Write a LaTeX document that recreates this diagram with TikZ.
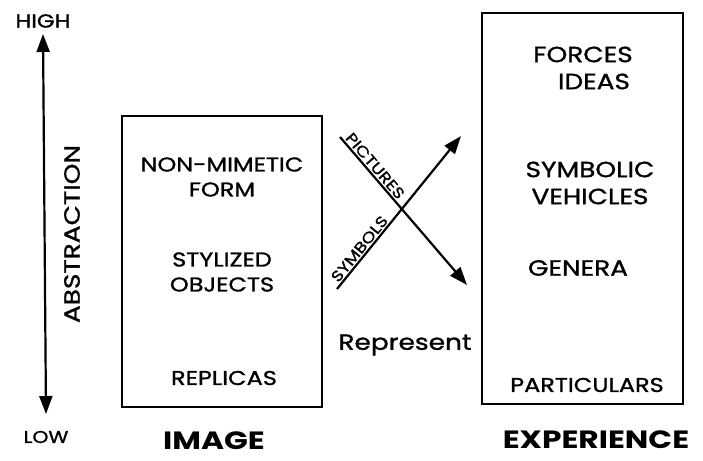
\documentclass[tikz,border=0pt]{standalone}
\usepackage{fontspec}
\setmainfont{Poppins}
\newfontfamily\handfont{Poppins}[FakeStretch=1.2,FakeBold=1.2]
\newfontfamily\capfont{Poppins}[FakeStretch=1.25]
\usetikzlibrary{arrows.meta,positioning}

\tikzset{
  panel/.style={draw,line width=2.2pt,inner sep=0pt},
  term/.style={align=center,font=\handfont\fontsize{20}{25}\selectfont},
  bigterm/.style={align=center,font=\handfont\fontsize{22}{27}\selectfont},
  caption/.style={font=\capfont\bfseries\fontsize{25}{30}\selectfont},
  tick/.style={font=\handfont\fontsize{19}{23}\selectfont},
  slant/.style={font=\handfont\fontsize{15}{18}\selectfont,inner sep=1.5pt},
  tip/.tip={Triangle[length=18pt,width=13pt]},
  link/.style={line width=2.2pt,-tip},
}

\begin{document}
\begin{tikzpicture}[x=1pt,y=-1pt]
    \useasboundingbox (0,0) rectangle (703,460);

    % abstraction scale
    \node[tick] (high) at (43,21) {HIGH};
    \node[tick,font=\handfont\fontsize{17}{21}\selectfont] (low) at (46,437) {LOW};
    \coordinate (scaleTop) at (43,34);
    \coordinate (scaleBot) at (46,414);
    \draw[line width=2.2pt,tip-tip] (scaleTop) -- (scaleBot);
    \node[rotate=90,font=\handfont\fontsize{22}{26}\selectfont] (abstraction) at (72,234) {ABSTRACTION};

    % image panel
    \node[panel,minimum width=200pt,minimum height=291pt] (imagebox) at (222,261.5) {};
    \node[term] (nonmimetic) at (222,177) {NON-MIMETIC\\FORM};
    \node[term] (stylized) at (222,272) {STYLIZED\\OBJECTS};
    \node[term] (replicas) at (224,378) {REPLICAS};
    \node[caption] (image) at (214,441) {IMAGE};

    % experience panel
    \node[panel,minimum width=201pt,minimum height=391pt] (expbox) at (582.5,208.5) {};
    \node[bigterm] (forces) at (583,68) {FORCES\\\hspace*{1em}IDEAS};
    \node[bigterm] (symbolic) at (590,183) {SYMBOLIC\\VEHICLES};
    \node[bigterm] (genera) at (578,268) {GENERA};
    \node[term] (particulars) at (587,385) {PARTICULARS};
    \node[caption] (experience) at (596,440) {EXPERIENCE};

    % crossing arrows
    \coordinate (picFrom) at (340,137);
    \coordinate (picTo) at (467,285);
    \coordinate (symFrom) at (337,289);
    \coordinate (symTo) at (461,136);
    \draw[link] (picFrom) -- (picTo) node[slant,pos=0.23,sloped,above] (pictures) {PICTURES};
    \draw[link] (symFrom) -- (symTo) node[slant,pos=0.23,sloped,above] (symbols) {SYMBOLS};
    \node[font=\handfont\fontsize{22}{26}\selectfont] (represent) at (405,345) {Represent};
\end{tikzpicture}
\end{document}
